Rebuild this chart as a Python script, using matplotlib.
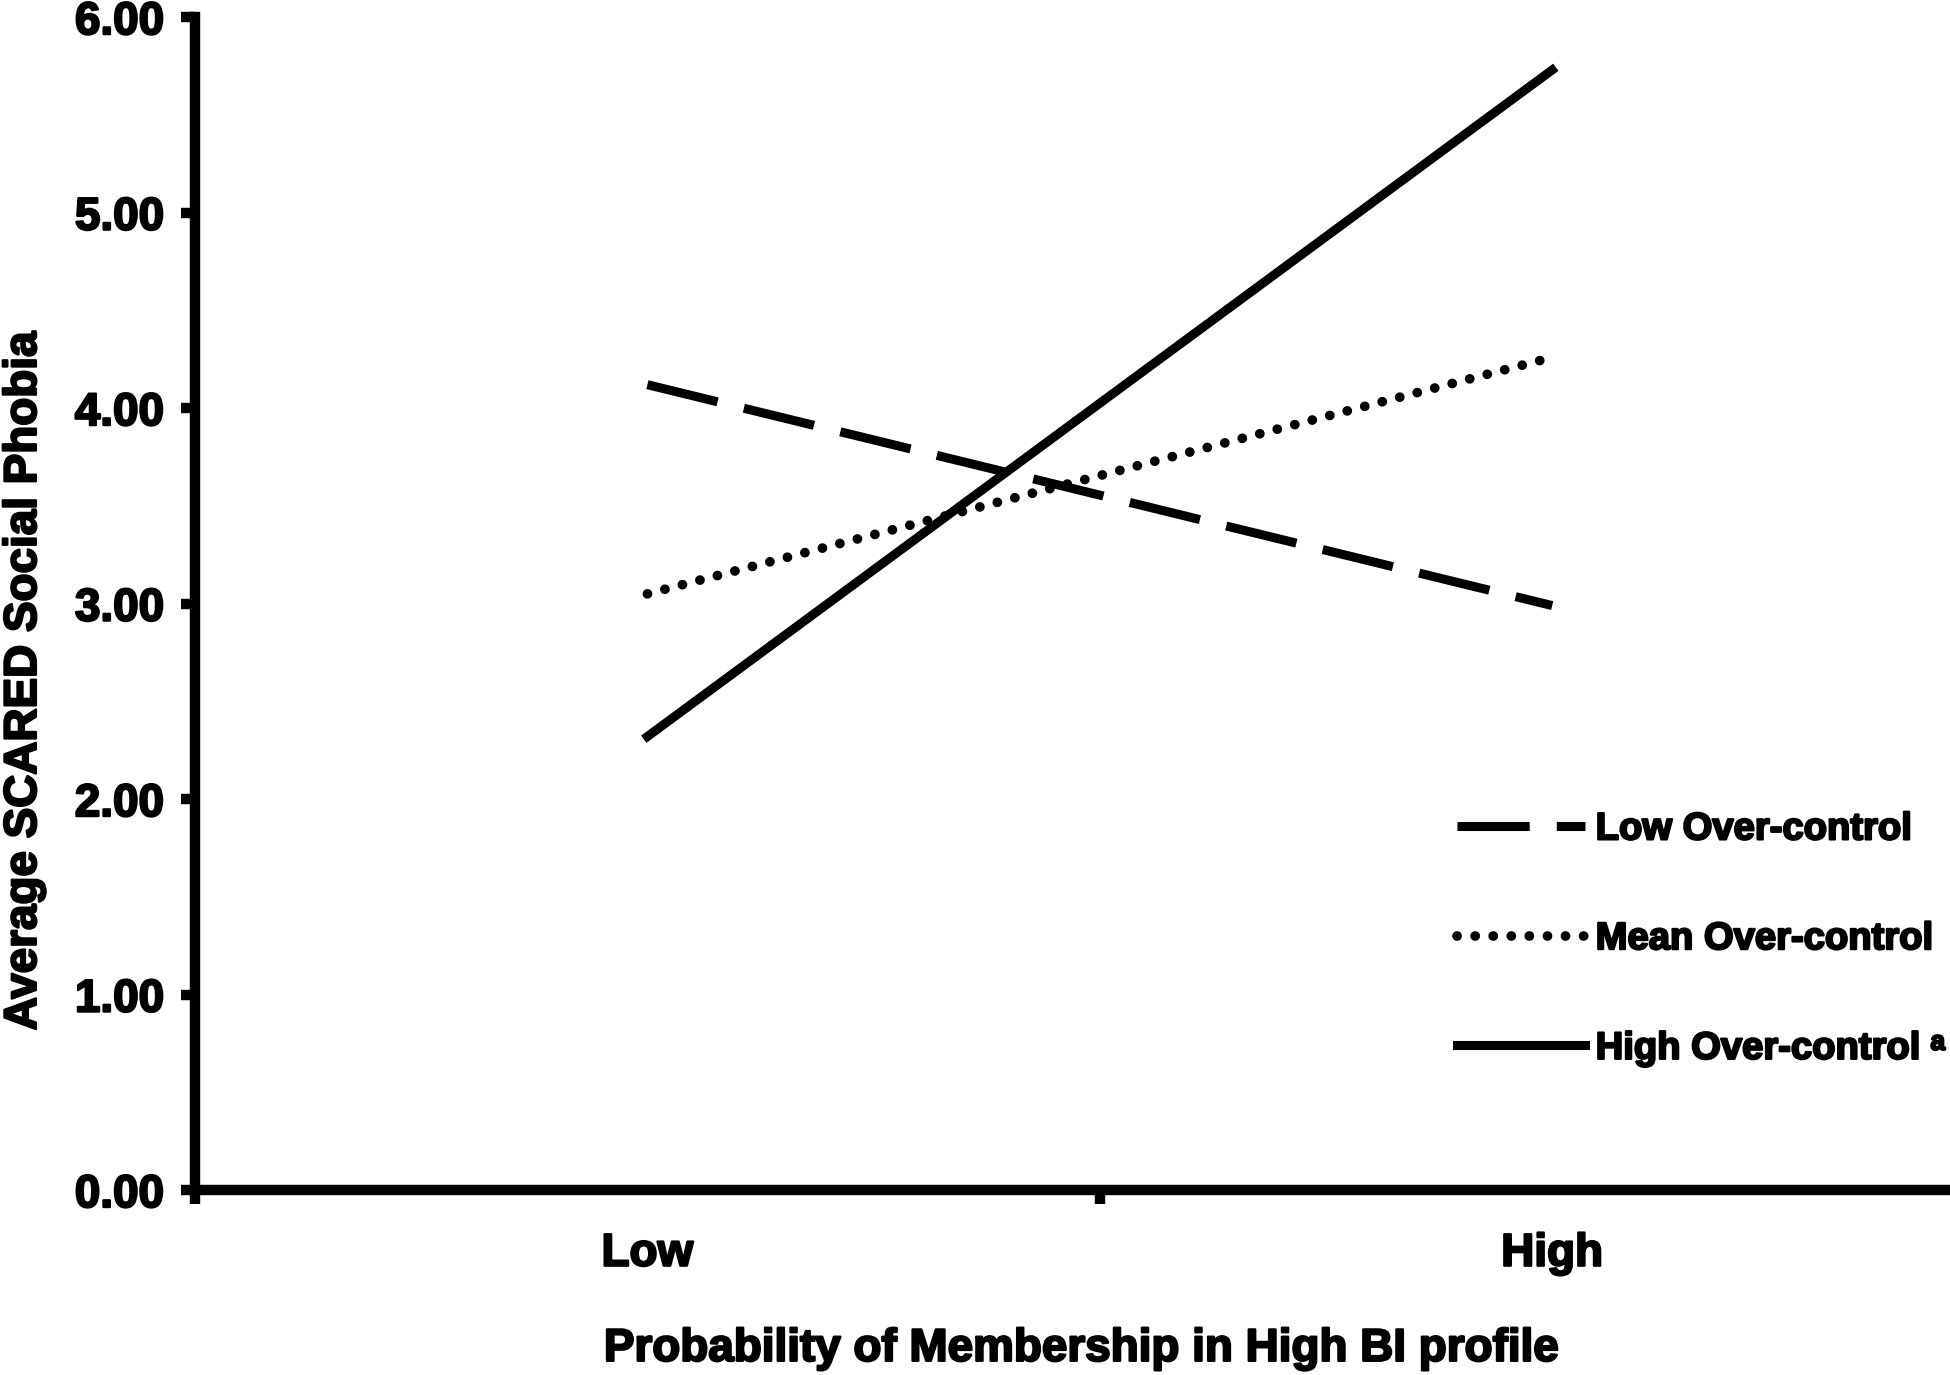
import matplotlib
matplotlib.use("Agg")
import matplotlib.pyplot as plt
import matplotlib.patheffects as pe

plt.rcParams['font.family'] = ['Liberation Sans', 'DejaVu Sans']
plt.rcParams['font.weight'] = 'bold'

categories = ["Low", "High"]
low_oc = [4.12, 2.99]
mean_oc = [3.05, 4.26]
high_oc = [2.32, 5.73]
y_ticks = [0, 1, 2, 3, 4, 5, 6]

heavy = [pe.withStroke(linewidth=1.6, foreground='black')]

fig = plt.figure(figsize=(19.5, 13.75), dpi=100)
# axes extends past the right edge, like the cropped original
ax = fig.add_axes([0.1, 0.1345, 0.928, 0.853])

x = list(range(len(categories)))
ax.plot(x, low_oc, color='black', lw=6.5, dashes=(8.0, 3.0), solid_capstyle='butt',
        label='Low Over-control')
ax.plot(x, mean_oc, color='black', lw=7, dashes=(0.01, 1.85), dash_capstyle='round',
        label='Mean Over-control')
ax.plot(x, high_oc, color='black', lw=6.5, label='High Over-control \u1d43')

ax.set_xlim(-0.5, 1.5)
ax.set_ylim(0, 6)
ax.set_yticks(y_ticks)
ax.set_yticklabels([f"{v:.2f}" for v in y_ticks])
ax.set_xticks(x)
ax.set_xticklabels(categories)
ax.set_xticks([-0.5, 0.5, 1.5], minor=True)

for s in ['top', 'right']:
    ax.spines[s].set_visible(False)
for s in ['left', 'bottom']:
    ax.spines[s].set_linewidth(7.5)

ax.tick_params(axis='y', which='major', length=10, width=7.5, labelsize=33, pad=12)
ax.tick_params(axis='x', which='major', length=0, labelsize=33, pad=30)
ax.tick_params(axis='x', which='minor', length=10, width=7.5)
for lab in ax.get_xticklabels() + ax.get_yticklabels():
    lab.set_path_effects(heavy)

fig.text(0.555, 0.019, "Probability of Membership in High BI profile",
         ha='center', va='center', fontsize=33, fontweight='bold', path_effects=heavy)
fig.text(0.001, 0.505, "Average SCARED Social Phobia", rotation=90,
         ha='left', va='center', fontsize=33, fontweight='bold', path_effects=heavy)

leg = fig.legend(handles=ax.get_lines(), loc='center left', bbox_to_anchor=(0.747, 0.317),
                 bbox_transform=fig.transFigure, frameon=False,
                 fontsize=27.5, handlelength=3.35, handletextpad=0.29, labelspacing=1.93,
                 borderpad=0, borderaxespad=0)
for t in leg.get_texts():
    t.set_path_effects(heavy)

fig.savefig("out.png", dpi=100)
